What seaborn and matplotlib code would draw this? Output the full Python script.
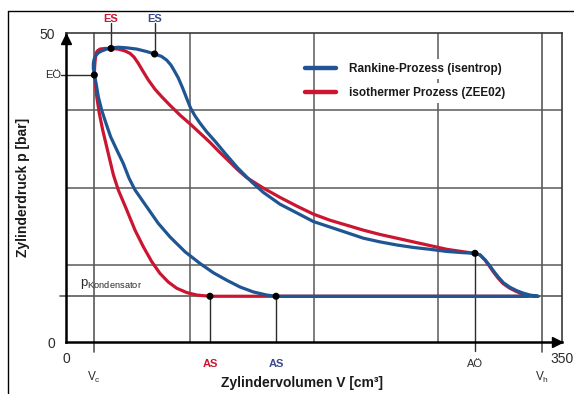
import matplotlib
matplotlib.use("Agg")
import matplotlib.pyplot as plt
from matplotlib.lines import Line2D
import seaborn as sns
import pandas as pd

# ---------------- data ----------------
rankine_V = [20, 19.3, 19.3, 19.8, 20.9, 22.8, 25.2, 28.7, 32.2, 36.9, 42.8, 49.9, 56.9,
             62.8, 67.5, 71.1, 74.1, 76.9, 79.3, 82.3, 85.2, 88.0, 91.0, 94.6, 99.3,
             105.5, 112, 121, 131.0, 139.3, 151.0, 162.8, 174.5, 186.3, 198.1, 209.8,
             221.6, 233.4, 245.1, 256.9, 268.7, 280.4, 288.6, 292.2, 295.7, 299.2,
             302.0, 305.1, 308.6, 313.3, 318.1, 322.7, 327.4, 333.3,
             148.2, 141.6, 132.2, 122.8, 113.4, 104.0, 94.6, 84.0, 73.4, 65.1, 56.9,
             48.7, 44.5, 40.4, 35.8, 31.5, 28.2, 25.2, 22.8, 21.2, 20]
rankine_p = [43.2, 44.3, 45.1, 45.7, 46.3, 46.8, 47.1, 47.4, 47.6, 47.7, 47.6, 47.4, 47.0,
             46.6, 46.2, 45.6, 44.8, 43.7, 42.7, 41.1, 39.4, 37.8, 36.6, 35.4, 34.0,
             32.4, 30.6, 28.2, 25.9, 24.2, 22.3, 20.9, 19.5, 18.6, 17.7, 16.8,
             16.2, 15.7, 15.3, 15.0, 14.65, 14.45, 14.35, 14.1, 13.3, 12.3,
             11.4, 10.5, 9.6, 8.85, 8.3, 7.9, 7.6, 7.4,
             7.4, 7.6, 8.1, 8.9, 10.0, 11.2, 12.7, 14.6, 17.0, 19.2, 21.9,
             24.6, 26.5, 28.9, 31.1, 33.2, 35.4, 37.5, 39.7, 41.9, 43.2]

iso_V = [20, 20.2, 20.6, 21.2, 22.1, 24.0, 27.5, 31.5, 36.9, 41.6, 45.2, 48.0, 51.0,
         54.6, 58.1, 62.8, 67.5, 73.4, 80.5, 87.5, 94.6, 101.6, 108, 115.7, 121,
         127.5, 139.3, 151.0, 162.8, 174.5, 186.3, 198.1, 209.8, 221.6, 233.4, 245.1,
         256.9, 268.7, 280.4, 288.6, 292, 295.5, 299, 301.7, 304.7, 308.2, 312.8,
         317.5, 321.8, 326,
         101.6, 92.2, 85.2, 78.1, 72.2, 66.3, 60.5, 54.6, 48.7, 42.8, 36.9, 33.5,
         31.5, 28.7, 25.9, 23.5, 21.7, 20.5, 20]
iso_p = [43.2, 44.5, 45.7, 46.7, 47.1, 47.4, 47.5, 47.5, 47.4, 47.1, 46.7, 46.1, 45.1,
         43.7, 42.4, 40.9, 39.7, 38.3, 36.7, 35.3, 33.8, 32.3, 30.8, 29.1, 27.9,
         26.6, 24.9, 23.4, 22.0, 20.7, 19.7, 18.9, 18.1, 17.4, 16.8, 16.2,
         15.6, 15.0, 14.6, 14.35, 14.1, 13.3, 12.2, 11.3, 10.4, 9.5, 8.75,
         8.2, 7.8, 7.4,
         7.4, 7.6, 8.0, 8.7, 9.7, 11.1, 13.0, 15.4, 18.1, 21.4, 24.6, 27.0,
         28.9, 31.6, 34.3, 37.0, 39.7, 42.4, 43.2]

series_names = ["Rankine-Prozess (isentrop)", "isothermer Prozess (ZEE02)"]

grid_V = [87.5, 175, 262.5]
grid_p = [12.5, 25, 37.5]
V_c, V_h = 20, 336
p_kond = 7.4

point_names = ["EÖ", "ES_iso", "ES_rank", "AS_iso", "AS_rank", "AÖ"]
point_V = [20, 31.8, 62.5, 101.6, 148.2, 288.6]
point_p = [43.2, 47.5, 46.6, 7.4, 7.4, 14.35]

# ---------------- style ----------------
sns.set_theme(style="white")
plt.rcParams["font.family"] = ["Liberation Sans", "DejaVu Sans"]
plt.rcParams["mathtext.fontset"] = "custom"
plt.rcParams["mathtext.rm"] = "Liberation Sans"
plt.rcParams["mathtext.it"] = "Liberation Sans"

BLUE = "#1f5593"
RED = "#cc1530"
GRID = "#5a5a5a"
TXT = "#2b2b2b"

fig = plt.figure(figsize=(5.74, 3.94), dpi=100)
ax = fig.add_axes([66/574, 1-342/394, 496/574, 309/394])
ax.set_xlim(0, 350)
ax.set_ylim(0, 50)

# grid
for v in grid_V:
    ax.axvline(v, color=GRID, lw=1.1, zorder=1)
for p in grid_p:
    ax.axhline(p, color=GRID, lw=1.1, zorder=1)
for v in (V_c, V_h):
    ax.plot([v, v], [50, -1.6], color=GRID, lw=1.2, zorder=1, clip_on=False)
ax.plot([-4.2, 350], [p_kond, p_kond], color=GRID, lw=1.2, zorder=1, clip_on=False)

# curves
df_r = pd.DataFrame({"V": rankine_V, "p": rankine_p})
df_i = pd.DataFrame({"V": iso_V, "p": iso_p})
sns.lineplot(data=df_i, x="V", y="p", sort=False, estimator=None, color=RED, lw=2.3,
             ax=ax, zorder=3, solid_joinstyle="round", solid_capstyle="round")
sns.lineplot(data=df_r, x="V", y="p", sort=False, estimator=None, color=BLUE, lw=2.3,
             ax=ax, zorder=4, solid_joinstyle="round", solid_capstyle="round")

# marker lines
pv = dict(zip(point_names, zip(point_V, point_p)))
ax.plot([-3.5, pv["EÖ"][0]], [pv["EÖ"][1]] * 2, color=TXT, lw=1.0, zorder=2, clip_on=False)
for k in ("ES_iso", "ES_rank"):
    ax.plot([pv[k][0]] * 2, [pv[k][1], 51.6], color=TXT, lw=1.0, zorder=2, clip_on=False)
for k in ("AS_iso", "AS_rank"):
    ax.plot([pv[k][0]] * 2, [pv[k][1], 0], color=TXT, lw=1.0, zorder=2, clip_on=False)
ax.plot([pv["AÖ"][0]] * 2, [pv["AÖ"][1], -1.5], color=TXT, lw=1.0, zorder=2, clip_on=False)

sns.scatterplot(x=point_V, y=point_p, color="black", s=26, ax=ax, zorder=6,
                edgecolor="none", clip_on=False)

# labels of points
fs = 8
ax.text(pv["ES_iso"][0], 52.3, "ES", color=RED, fontsize=fs, fontweight="bold",
        ha="center", va="center")
ax.text(pv["ES_rank"][0], 52.3, "ES", color="#3b4a8e", fontsize=fs, fontweight="bold",
        ha="center", va="center")
ax.text(-3.5, pv["EÖ"][1], "EÖ", color=TXT, fontsize=fs, ha="right", va="center")
ax.text(pv["AS_iso"][0], -3.6, "AS", color=RED, fontsize=fs, fontweight="bold",
        ha="center", va="center")
ax.text(pv["AS_rank"][0], -3.6, "AS", color="#3b4a8e", fontsize=fs, fontweight="bold",
        ha="center", va="center")
ax.text(pv["AÖ"][0], -3.6, "AÖ", color=TXT, fontsize=fs, ha="center", va="center")
ax.text(V_c, -5.7, r"V$_{\mathrm{c}}$", color=TXT, fontsize=8.5, ha="center", va="center")
ax.text(V_h, -5.7, r"V$_{\mathrm{h}}$", color=TXT, fontsize=8.5, ha="center", va="center")
ax.text(10, 9.0, r"p$_{\mathrm{Kondensator}}$", color=TXT, fontsize=9.5,
        ha="left", va="baseline")

# axes decoration
ax.set_xticks([0, 350])
ax.set_xticklabels(["0", "350"])
ax.set_yticks([0, 50])
ax.set_yticklabels(["0", "50"])
ax.tick_params(length=0, labelsize=10, labelcolor=TXT)
ax.tick_params(axis="y", pad=8)
ax.tick_params(axis="x", pad=7)
for s in ("left", "bottom"):
    ax.spines[s].set_color("black")
    ax.spines[s].set_linewidth(1.8)
for s in ("top", "right"):
    ax.spines[s].set_color("#3a3a3a")
    ax.spines[s].set_linewidth(1.2)

ax.plot([0], [49.0], marker="^", color="black", markersize=7, clip_on=False, zorder=7)
ax.plot([346.5], [0], marker=">", color="black", markersize=7, clip_on=False, zorder=7)

ax.set_xlabel("Zylindervolumen V [cm³]", fontsize=10, fontweight="bold", color="#1a1a1a")
ax.set_ylabel("Zylinderdruck p [bar]", fontsize=10, fontweight="bold", color="#1a1a1a")
ax.xaxis.set_label_coords(0.476, -0.11)
ax.yaxis.set_label_coords(-0.073, 0.5)

# legend
handles = [Line2D([], [], color=BLUE, lw=3.2), Line2D([], [], color=RED, lw=3.2)]
leg = ax.legend(handles, series_names, loc="upper left",
                bbox_to_anchor=(305/574, 1-63/394), bbox_transform=fig.transFigure,
                frameon=False, borderpad=0, borderaxespad=0, handlelength=2.6,
                handletextpad=1.1, labelspacing=1.0,
                prop={"weight": "bold", "size": 8.5})
for t in leg.get_texts():
    t.set_color("#1a1a1a")
    t.set_bbox(dict(facecolor="white", edgecolor="none", pad=3))

# outer frame of the original figure
fig.add_artist(Line2D([8/574, 8/574], [0, 1-11/394], color="black", lw=1.0,
                      transform=fig.transFigure))
fig.add_artist(Line2D([8/574, 1], [1-11/394, 1-11/394], color="black", lw=1.0,
                      transform=fig.transFigure))

fig.savefig("out.png", dpi=100)
